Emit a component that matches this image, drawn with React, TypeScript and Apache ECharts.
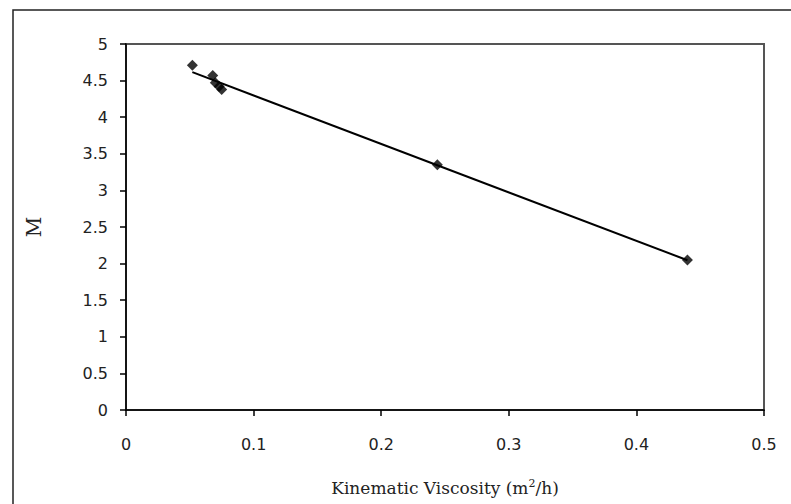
import React, { useEffect, useRef } from "react";
import * as echarts from "echarts";

const viscosity = [0.052, 0.068, 0.070, 0.073, 0.075, 0.244, 0.440];
const mValues = [4.71, 4.57, 4.47, 4.42, 4.38, 3.35, 2.05];
const xTicks = [0, 0.1, 0.2, 0.3, 0.4, 0.5];
const yTicks = [0, 0.5, 1, 1.5, 2, 2.5, 3, 3.5, 4, 4.5, 5];

function fitLine(xs: number[], ys: number[]) {
  const n = xs.length;
  const mx = xs.reduce((a, b) => a + b, 0) / n;
  const my = ys.reduce((a, b) => a + b, 0) / n;
  let sxy = 0, sxx = 0;
  for (let i = 0; i < n; i++) {
    sxy += (xs[i] - mx) * (ys[i] - my);
    sxx += (xs[i] - mx) * (xs[i] - mx);
  }
  const b = sxy / sxx;
  const a = my - b * mx;
  const x0 = Math.min(...xs);
  const x1 = Math.max(...xs);
  return [[x0, a + b * x0], [x1, a + b * x1]];
}

export default function App() {
  const ref = useRef<HTMLDivElement>(null);
  useEffect(() => {
    if (!ref.current) return;
    const chart = echarts.init(ref.current, undefined, { renderer: "svg" });
    const tickFont = { fontFamily: "DejaVu Sans", fontSize: 16, color: "#222" };
    chart.setOption({
      animation: false,
      backgroundColor: "#fff",
      graphic: [
        {
          type: "rect",
          shape: { x: 13, y: 10, width: 800, height: 520 },
          style: { fill: "none", stroke: "#222", lineWidth: 1.5 },
          silent: true,
        },
      ],
      grid: {
        left: 126,
        top: 44,
        right: 27,
        bottom: 94,
        show: true,
        borderColor: "#555",
        borderWidth: 2,
        containLabel: false,
        outerBoundsMode: "none",
      },
      xAxis: {
        type: "value",
        min: 0,
        max: 0.5,
        interval: 0.1,
        splitLine: { show: false },
        axisLine: { lineStyle: { color: "#000", width: 1.5 } },
        axisTick: { show: true, inside: false, length: 6, lineStyle: { color: "#000", width: 1.5 } },
        axisLabel: { ...tickFont, margin: 26, formatter: (v: number) => String(+v.toFixed(1)) },
        name: "Kinematic Viscosity (m{sup|2}/h)",
        nameLocation: "middle",
        nameGap: 68,
        nameTextStyle: {
          fontFamily: "DejaVu Serif",
          fontSize: 17,
          color: "#222",
          rich: {
            sup: { fontFamily: "DejaVu Serif", fontSize: 11, verticalAlign: "top", padding: [0, 0, 8, 0], color: "#222" },
          },
        },
      },
      yAxis: {
        type: "value",
        min: 0,
        max: 5,
        interval: 0.5,
        splitLine: { show: false },
        axisLine: { lineStyle: { color: "#000", width: 1.5 } },
        axisTick: { show: true, inside: false, length: 6, lineStyle: { color: "#000", width: 1.5 } },
        axisLabel: { ...tickFont, margin: 18 },
        name: "M",
        nameLocation: "middle",
        nameGap: 82,
        nameRotate: 90,
        nameTextStyle: { fontFamily: "DejaVu Serif", fontSize: 20, color: "#222" },
      },
      series: [
        {
          type: "line",
          data: fitLine(viscosity, mValues),
          showSymbol: false,
          symbol: "none",
          lineStyle: { color: "#000", width: 2 },
          z: 2,
        },
        {
          type: "scatter",
          data: viscosity.map((x, i) => [x, mValues[i]]),
          symbol: "diamond",
          symbolSize: [11, 11],
          itemStyle: { color: "#000" },
          z: 3,
        },
      ],
    });
    return () => chart.dispose();
  }, []);
  return (
    <div
      ref={ref}
      style={{ position: "absolute", left: 0, top: 0, width: 791, height: 504 }}
    />
  );
}
